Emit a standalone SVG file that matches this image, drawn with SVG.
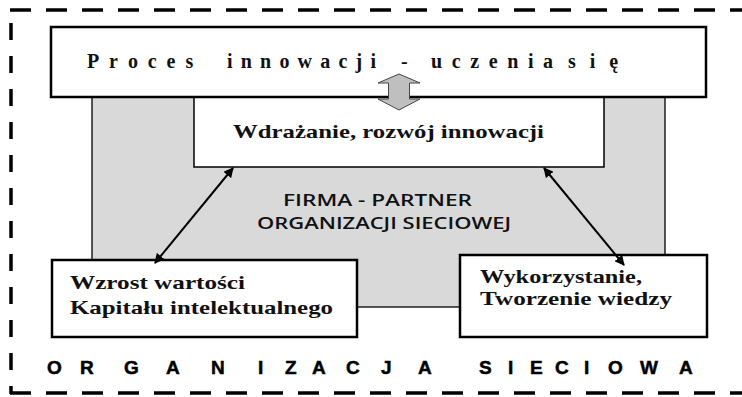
<svg xmlns="http://www.w3.org/2000/svg" width="742" height="397" viewBox="0 0 742 397">
<style>
.dash{fill:none;stroke:#000;stroke-width:3.5}
.box{fill:#fff;stroke:#000;stroke-width:2.5}
.thin{fill:#fff;stroke:#000;stroke-width:1.5}
.serif{font-family:"Liberation Serif","Times New Roman",serif;font-weight:bold;fill:#111}
.sans{font-family:"Open Sans","Liberation Sans",sans-serif;font-weight:600;fill:#111}
.head{font-family:"Liberation Sans",Arial,sans-serif;font-weight:bold;font-size:19px;fill:#000;stroke:#000;stroke-width:0.5}
.conn{stroke:#000;stroke-width:2;fill:none;marker-start:url(#ah);marker-end:url(#ah)}
</style>
<defs>
<marker id="ah" viewBox="0 0 10 10" refX="9" refY="5" markerWidth="5" markerHeight="5" orient="auto-start-reverse">
<path d="M0,0 L10,5 L0,10 z" fill="#000"/>
</marker>
</defs>
<rect width="742" height="397" fill="#fff"/>
<g id="border">
<line class="dash" x1="10" y1="10" x2="742" y2="10" stroke-dasharray="21 15"/>
<line class="dash" x1="11" y1="23" x2="11" y2="394" stroke-dasharray="17 16"/>
<line class="dash" x1="10" y1="393" x2="742" y2="393" stroke-dasharray="21 15"/>
</g>
<g id="firma">
<rect x="92" y="90" width="573" height="217" fill="#d9d9d9" stroke="#000" stroke-width="1.3"/>
<text class="sans" x="283" y="206" font-size="17" textLength="189" lengthAdjust="spacingAndGlyphs">FIRMA - PARTNER</text>
<text class="sans" x="257" y="229" font-size="17" textLength="254" lengthAdjust="spacingAndGlyphs">ORGANIZACJI SIECIOWEJ</text>
</g>
<g id="wdrazanie">
<rect class="thin" x="194" y="90" width="410" height="77"/>
<text class="serif" x="233" y="138" font-size="19" textLength="311" lengthAdjust="spacingAndGlyphs">Wdrażanie, rozwój innowacji</text>
</g>
<g id="proces">
<rect class="box" x="51" y="27" width="655" height="70"/>
<g class="serif" font-size="20">
<text x="87 109.1 127.9 147.8 166.6 185.4" y="68">Proces</text>
<text x="227 240.8 260.1 279.4 297.6 320.2 338.4 355.5 370.4" y="68">innowacji</text>
<text x="401" y="68">-</text>
<text x="431 451.7 470.2 488.7 507.2 527.9 543.1" y="68">uczenia</text>
<text x="568 589.7 609.2" y="68">się</text>
</g>
</g>
<g id="wzrost">
<rect class="box" x="52" y="260" width="305" height="77"/>
<text class="serif" x="70" y="289" font-size="19" textLength="175" lengthAdjust="spacingAndGlyphs">Wzrost wartości</text>
<text class="serif" x="70" y="314" font-size="19" textLength="263" lengthAdjust="spacingAndGlyphs">Kapitału intelektualnego</text>
</g>
<g id="wykorzystanie">
<rect class="box" x="460" y="255" width="247" height="82"/>
<text class="serif" x="480" y="283" font-size="19" textLength="162" lengthAdjust="spacingAndGlyphs">Wykorzystanie,</text>
<text class="serif" x="480" y="305" font-size="19" textLength="192" lengthAdjust="spacingAndGlyphs">Tworzenie wiedzy</text>
</g>
<g id="connectors">
<line class="conn" x1="233" y1="168" x2="155" y2="263"/>
<line class="conn" x1="544" y1="168" x2="624" y2="265"/>
<polygon points="399,74 420,83 409.5,83 409.5,99 420,99 399,110 378,99 388.5,99 388.5,83 378,83" fill="#bfbfbf" stroke="#444" stroke-width="1"/>
</g>
<g id="organizacja" class="head">
<text x="47 80 124 166 211 258 285 312 346 381 418" y="374">ORGANIZACJA</text>
<text x="479 508 530 555 584 608 640 679" y="374">SIECIOWA</text>
</g>
</svg>
